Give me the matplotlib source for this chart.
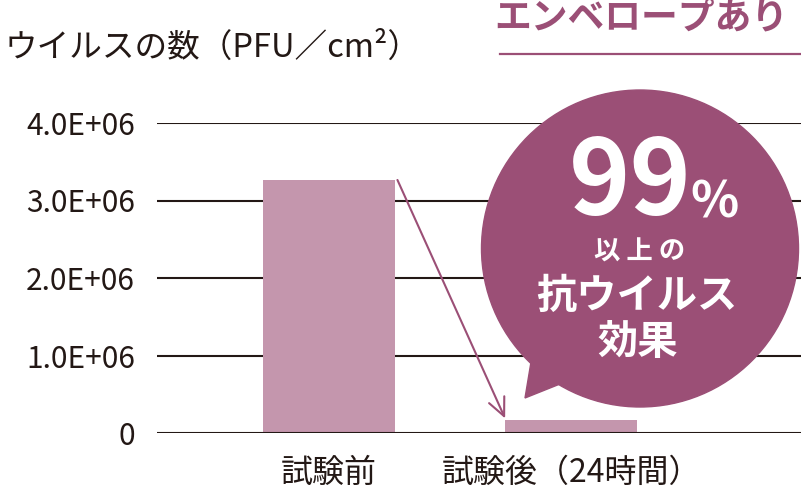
import matplotlib
matplotlib.use("Agg")
import matplotlib.pyplot as plt
from matplotlib.patches import Circle, Polygon

plt.rcParams['font.family'] = ['Noto Sans CJK JP', 'DejaVu Sans']

# ---- data ----
categories = ["試験前", "試験後（24時間）"]
values = [3.265e6, 0.168e6]
yticks = [0, 1e6, 2e6, 3e6, 4e6]
ytick_labels = ["0", "1.0E+06", "2.0E+06", "3.0E+06", "4.0E+06"]
ylabel = "ウイルスの数（PFU／cm²）"
title = "エンベロープあり"
bubble_big = "99"
bubble_pct = "%"
bubble_lines = ["以 上 の", "抗ウイルス", "効果"]

BAR = "#c496ad"
PURPLE = "#9b4f76"
GRID = "#231815"

W, H = 801, 493
fig = plt.figure(figsize=(W / 100, H / 100), dpi=100)

# main axes in pixel geometry
left, right, top, bottom = 157, 801, 123, 433
ax = fig.add_axes([left / W, (H - bottom) / H, (right - left) / W, (bottom - top) / H])
x = [0, 1]
ax.set_xlim(-0.711, 1.950)
ax.set_ylim(0, 4e6)
ax.bar(x, values, width=0.545, color=BAR, zorder=3)
for yv in yticks:
    ax.axhline(yv, color=GRID, lw=1.5, zorder=2 if yv else 4)
ax.set_yticks(yticks)
ax.set_yticklabels(ytick_labels, fontsize=21.5, color="#231815")
ax.set_xticks(x)
ax.set_xticklabels(categories, fontsize=23, color="#231815")
ax.tick_params(axis="y", length=0, pad=16)
ax.tick_params(axis="x", length=0, pad=17)
for s in ax.spines.values():
    s.set_visible(False)

# arrow from bar1 top-right to bar2 top-left
ax.annotate("", xy=(1 - 0.545 / 2, values[1] + 0.02e6),
            xytext=(0 + 0.545 / 2 + 0.01, values[0]),
            arrowprops=dict(arrowstyle="->,head_length=1.3,head_width=0.6",
                            color=PURPLE, lw=1.5, shrinkA=0, shrinkB=0),
            zorder=5)

# overlay axes in pixel coords
ov = fig.add_axes([0, 0, 1, 1])
ov.set_xlim(0, W)
ov.set_ylim(H, 0)
ov.axis("off")

ov.text(5, 48, ylabel, fontsize=23.5, color="#231815", ha="left", va="center")
ov.text(641, 18, title, fontsize=26.5, color=PURPLE, ha="center", va="center",
        fontweight="bold")
ov.plot([500, 801], [54, 54], color=PURPLE, lw=1.6)

ov.add_patch(Circle((640, 248.5), 158.5, color=PURPLE, zorder=6))
ov.add_patch(Polygon([(525, 398), (533, 350), (570, 380)], closed=True,
                     color=PURPLE, zorder=6))
ov.text(630, 184, bubble_big, fontsize=75, color="white", ha="center",
        va="center", fontweight="bold", zorder=7)
ov.text(715, 203, bubble_pct, fontsize=36, color="white", ha="center",
        va="center", fontweight="bold", zorder=7)
ov.text(640, 252, bubble_lines[0], fontsize=19, color="white", ha="center",
        va="center", fontweight="bold", zorder=7)
ov.text(637, 296, bubble_lines[1], fontsize=29, color="white", ha="center",
        va="center", fontweight="bold", zorder=7)
ov.text(638, 342, bubble_lines[2], fontsize=29, color="white", ha="center",
        va="center", fontweight="bold", zorder=7)

fig.savefig("out.png", dpi=100)
